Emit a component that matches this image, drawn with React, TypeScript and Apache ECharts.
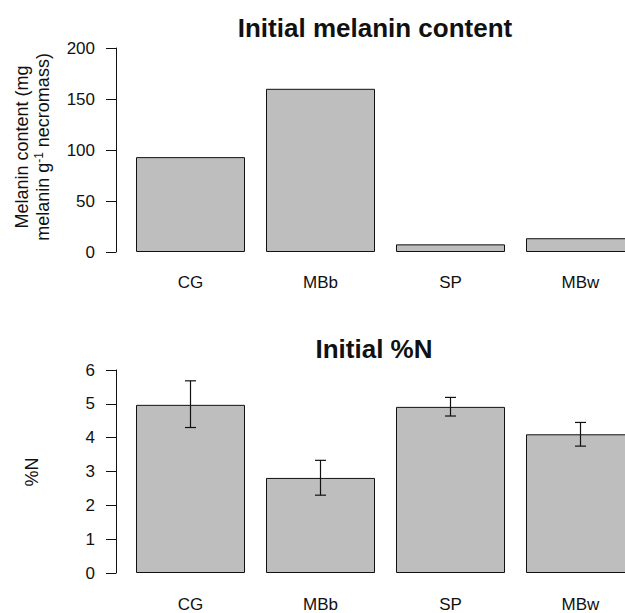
import React, { useEffect, useRef } from "react";
import * as echarts from "echarts";

const categories = ["CG", "MBb", "SP", "MBw"];
const melaninValues = [93, 160, 7.5, 13.5];
const nitrogenValues = [4.97, 2.81, 4.91, 4.1];
const nitrogenLow = [4.3, 2.3, 4.64, 3.75];
const nitrogenHigh = [5.68, 3.33, 5.19, 4.45];
const melaninAxis = { min: 0, max: 200, interval: 50 };
const nitrogenAxis = { min: 0, max: 6, interval: 1 };
const titles = ["Initial melanin content", "Initial %N"];

const FONT = '"Liberation Sans", Arial, Helvetica, sans-serif';
const INK = "#111111";
const FILL = "#BEBEBE";

export default function App() {
  const ref = useRef<HTMLDivElement>(null);

  useEffect(() => {
    if (!ref.current) return;
    const chart = echarts.init(ref.current, undefined, { renderer: "svg" });

    const gridLeft = 125.5;
    const gridWidth = 520;
    const axisOffset = 9.5;

    const xAxisBase = (gridIndex: number, margin: number) => ({
      type: "category" as const,
      gridIndex,
      data: categories,
      axisLine: { show: false },
      axisTick: { show: false },
      axisLabel: { fontSize: 17, color: INK, margin, fontFamily: FONT },
      splitLine: { show: false },
    });

    const yAxisBase = (gridIndex: number, ax: { min: number; max: number; interval: number }) => ({
      type: "value" as const,
      gridIndex,
      min: ax.min,
      max: ax.max,
      interval: ax.interval,
      offset: axisOffset,
      axisLine: { show: true, lineStyle: { color: INK, width: 1 } },
      axisTick: { show: true, length: 10, lineStyle: { color: INK, width: 1 } },
      axisLabel: { fontSize: 17, color: INK, margin: 21, fontFamily: FONT },
      splitLine: { show: false },
    });

    const errData = categories.map((_, i) => [i, nitrogenLow[i], nitrogenHigh[i]]);

    chart.setOption({
      animation: false,
      backgroundColor: "#ffffff",
      grid: [
        { left: gridLeft, top: 48, width: gridWidth, height: 204 },
        { left: gridLeft, top: 370, width: gridWidth, height: 203 },
      ],
      xAxis: [xAxisBase(0, 22), xAxisBase(1, 23)],
      yAxis: [yAxisBase(0, melaninAxis), yAxisBase(1, nitrogenAxis)],
      series: [
        {
          type: "bar",
          xAxisIndex: 0,
          yAxisIndex: 0,
          data: melaninValues,
          barWidth: 109,
          itemStyle: { color: FILL, borderColor: INK, borderWidth: 1 },
        },
        {
          type: "bar",
          xAxisIndex: 1,
          yAxisIndex: 1,
          data: nitrogenValues,
          barWidth: 109,
          itemStyle: { color: FILL, borderColor: INK, borderWidth: 1 },
        },
        {
          type: "custom",
          xAxisIndex: 1,
          yAxisIndex: 1,
          data: errData,
          z: 10,
          renderItem: (params: any, api: any) => {
            const idx = api.value(0);
            const lo = api.coord([idx, api.value(1)]);
            const hi = api.coord([idx, api.value(2)]);
            const cap = 5.5;
            const style = { stroke: INK, lineWidth: 1.2 };
            return {
              type: "group",
              children: [
                { type: "line", shape: { x1: lo[0], y1: lo[1], x2: hi[0], y2: hi[1] }, style },
                { type: "line", shape: { x1: lo[0] - cap, y1: lo[1], x2: lo[0] + cap, y2: lo[1] }, style },
                { type: "line", shape: { x1: hi[0] - cap, y1: hi[1], x2: hi[0] + cap, y2: hi[1] }, style },
              ],
            };
          },
        },
      ],
      graphic: [
        {
          type: "text",
          x: 375,
          y: 28,
          style: {
            text: titles[0],
            font: `bold 26px ${FONT}`,
            fill: INK,
            align: "center",
            verticalAlign: "middle",
            textAlign: "center",
            textVerticalAlign: "middle",
          },
        },
        {
          type: "text",
          x: 374,
          y: 349,
          style: {
            text: titles[1],
            font: `bold 26px ${FONT}`,
            fill: INK,
            align: "center",
            verticalAlign: "middle",
            textAlign: "center",
            textVerticalAlign: "middle",
          },
        },
        {
          type: "text",
          x: 32.5,
          y: 147,
          rotation: Math.PI / 2,
          style: {
            text: "{a|Melanin content (mg}\n{a|melanin g}{s|-1}{a| necromass)}",
            fill: INK,
            align: "center",
            verticalAlign: "middle",
            textAlign: "center",
            textVerticalAlign: "middle",
            rich: {
              a: { fontSize: 18, fontFamily: FONT, lineHeight: 21, fill: INK, color: INK },
              s: { fontSize: 12, fontFamily: FONT, lineHeight: 21, verticalAlign: "top", fill: INK, color: INK },
            },
          },
        },
        {
          type: "text",
          x: 32,
          y: 472,
          rotation: Math.PI / 2,
          style: {
            text: "%N",
            font: `18px ${FONT}`,
            fill: INK,
            align: "center",
            verticalAlign: "middle",
            textAlign: "center",
            textVerticalAlign: "middle",
          },
        },
      ],
    });

    return () => chart.dispose();
  }, []);

  return (
    <div
      style={{
        position: "fixed",
        left: 0,
        top: 0,
        width: 625,
        height: 613,
        overflow: "hidden",
        background: "#ffffff",
      }}
    >
      <div ref={ref} style={{ width: 660, height: 613 }} />
    </div>
  );
}
